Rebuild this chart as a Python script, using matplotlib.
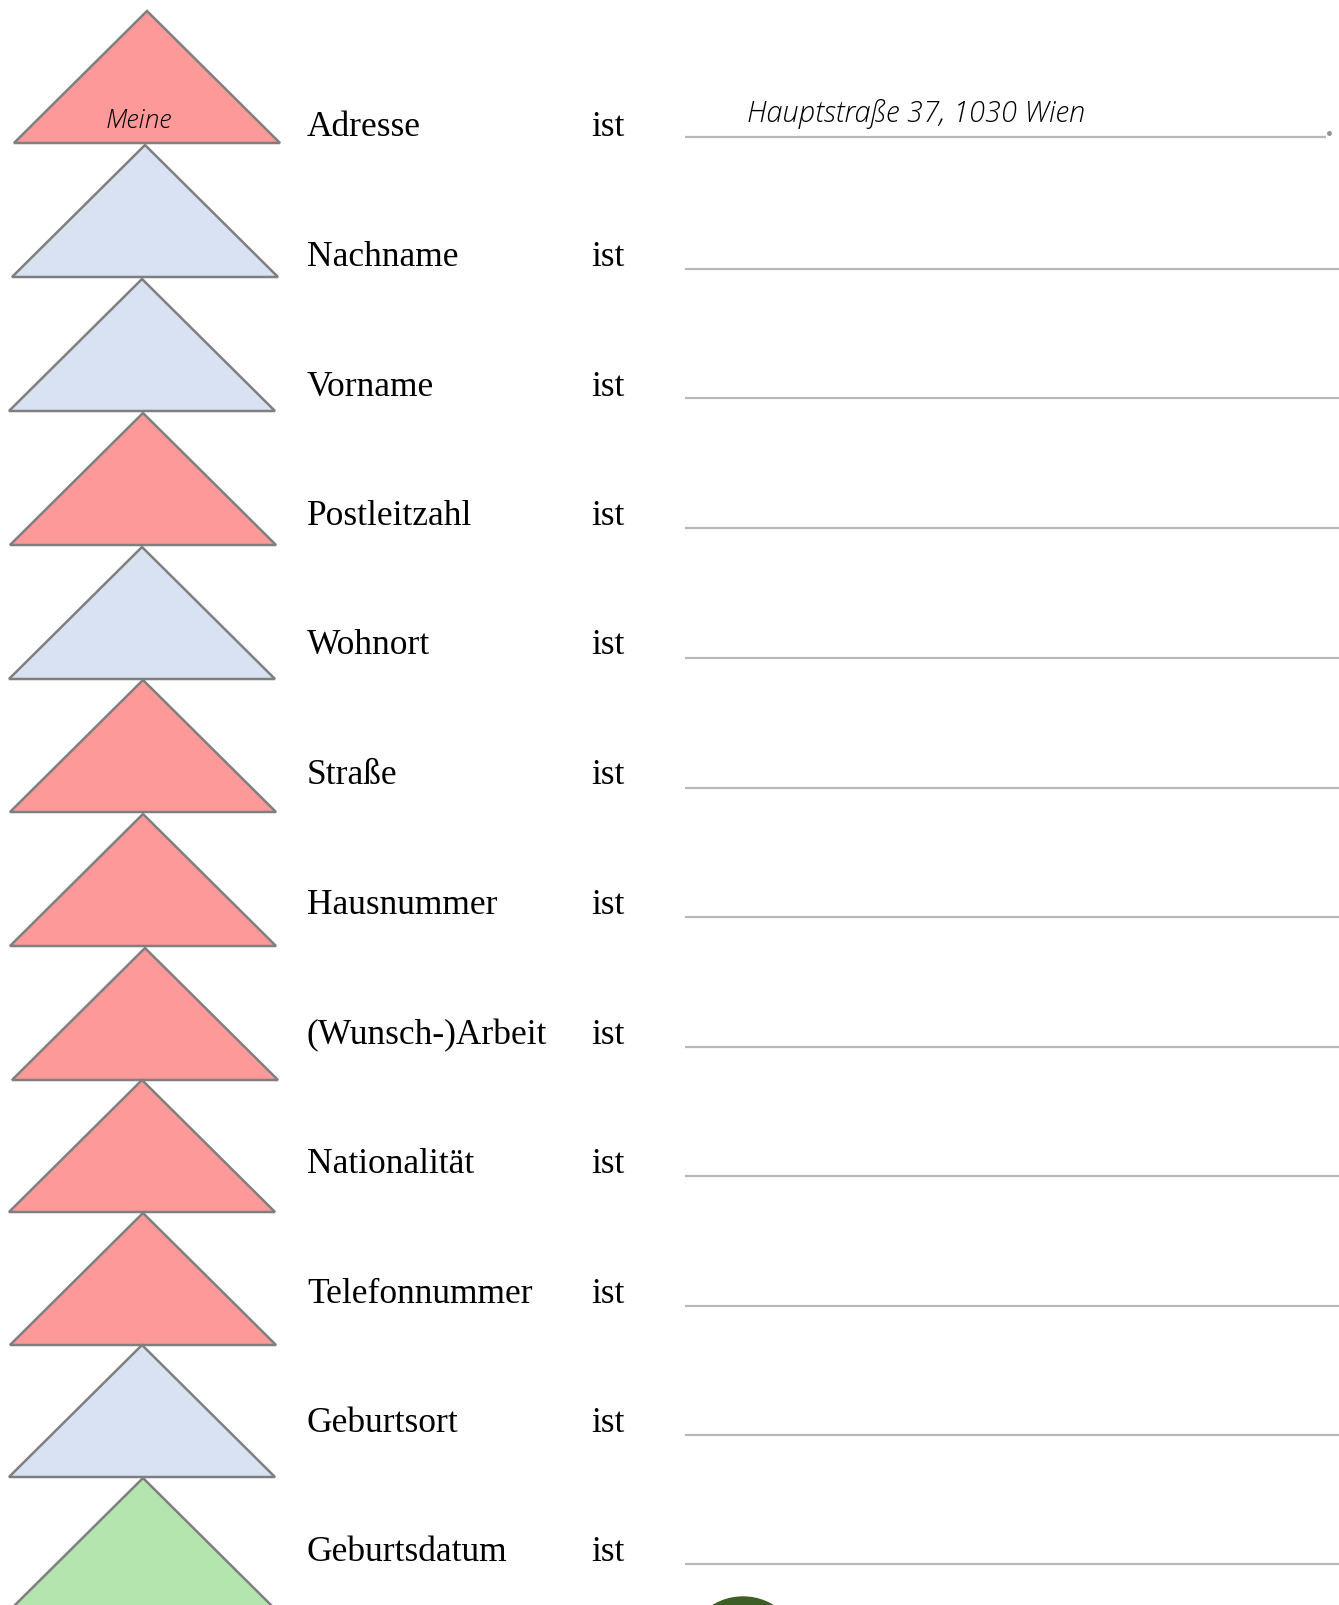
import matplotlib.pyplot as plt
from matplotlib.patches import Polygon, Circle

# worksheet rows: word, triangle colour
words = ['Adresse', 'Nachname', 'Vorname', 'Postleitzahl', 'Wohnort', 'Straße',
         'Hausnummer', '(Wunsch-)Arbeit', 'Nationalität', 'Telefonnummer',
         'Geburtsort', 'Geburtsdatum']
kinds = ['red', 'blue', 'blue', 'red', 'blue', 'red',
         'red', 'red', 'red', 'red', 'blue', 'green']
answer = 'Hauptstraße 37, 1030 Wien'
tri_word = 'Meine'

colors = {'red': '#fe9999', 'blue': '#d9e2f3', 'green': '#b4e5ae'}

# layout measured from the sheet (pixels, y downwards)
apex_x = [147, 145, 142, 143, 142, 143, 143, 145, 142, 143, 142, 143]
apex_y = [12, 146, 280, 414, 548, 681, 815, 949, 1081, 1214, 1346, 1479]
tri_h = 132
half_w = 133
text_y = [128, 258, 387, 517, 646, 776, 906, 1036, 1165, 1295, 1424, 1553]
line_y = [138, 270, 399, 529, 659, 789, 918, 1048, 1177, 1307, 1436, 1565]

W, H = 1339, 1606
fig = plt.figure(figsize=(W / 100, H / 100), dpi=100)
ax = fig.add_axes([0, 0, 1, 1])
ax.set_xlim(0, W)
ax.set_ylim(H, 0)
ax.axis('off')

for i, word in enumerate(words):
    ax_, ay = apex_x[i], apex_y[i]
    tri = Polygon([(ax_, ay), (ax_ - half_w, ay + tri_h), (ax_ + half_w, ay + tri_h)],
                  closed=True, facecolor=colors[kinds[i]], edgecolor='#7f7f7f',
                  linewidth=1.8, zorder=2 + i)
    ax.add_patch(tri)
    ax.text(307, text_y[i], word, fontsize=25.5, family='Liberation Serif',
            va='center', ha='left')
    ax.text(591, text_y[i], 'ist', fontsize=25.5, family='Liberation Serif',
            va='center', ha='left')
    x_end = 1326 if i == 0 else W
    ax.plot([685, x_end], [line_y[i], line_y[i]], color='#b8b8b8', lw=1.6,
            solid_capstyle='butt')

ax.plot([1329], [134], marker='o', ms=2.5, color='#909090')
ax.text(139, 121, tri_word, fontsize=19, family='Open Sans', style='italic',
        weight='light', ha='center', va='center', zorder=20)
ax.text(747, 114, answer, fontsize=21, family='Open Sans', style='italic',
        weight='light', ha='left', va='center')

ax.add_patch(Circle((743, 1656), 58, color='#3d5e24', zorder=5))

fig.savefig('out.png', dpi=100)
